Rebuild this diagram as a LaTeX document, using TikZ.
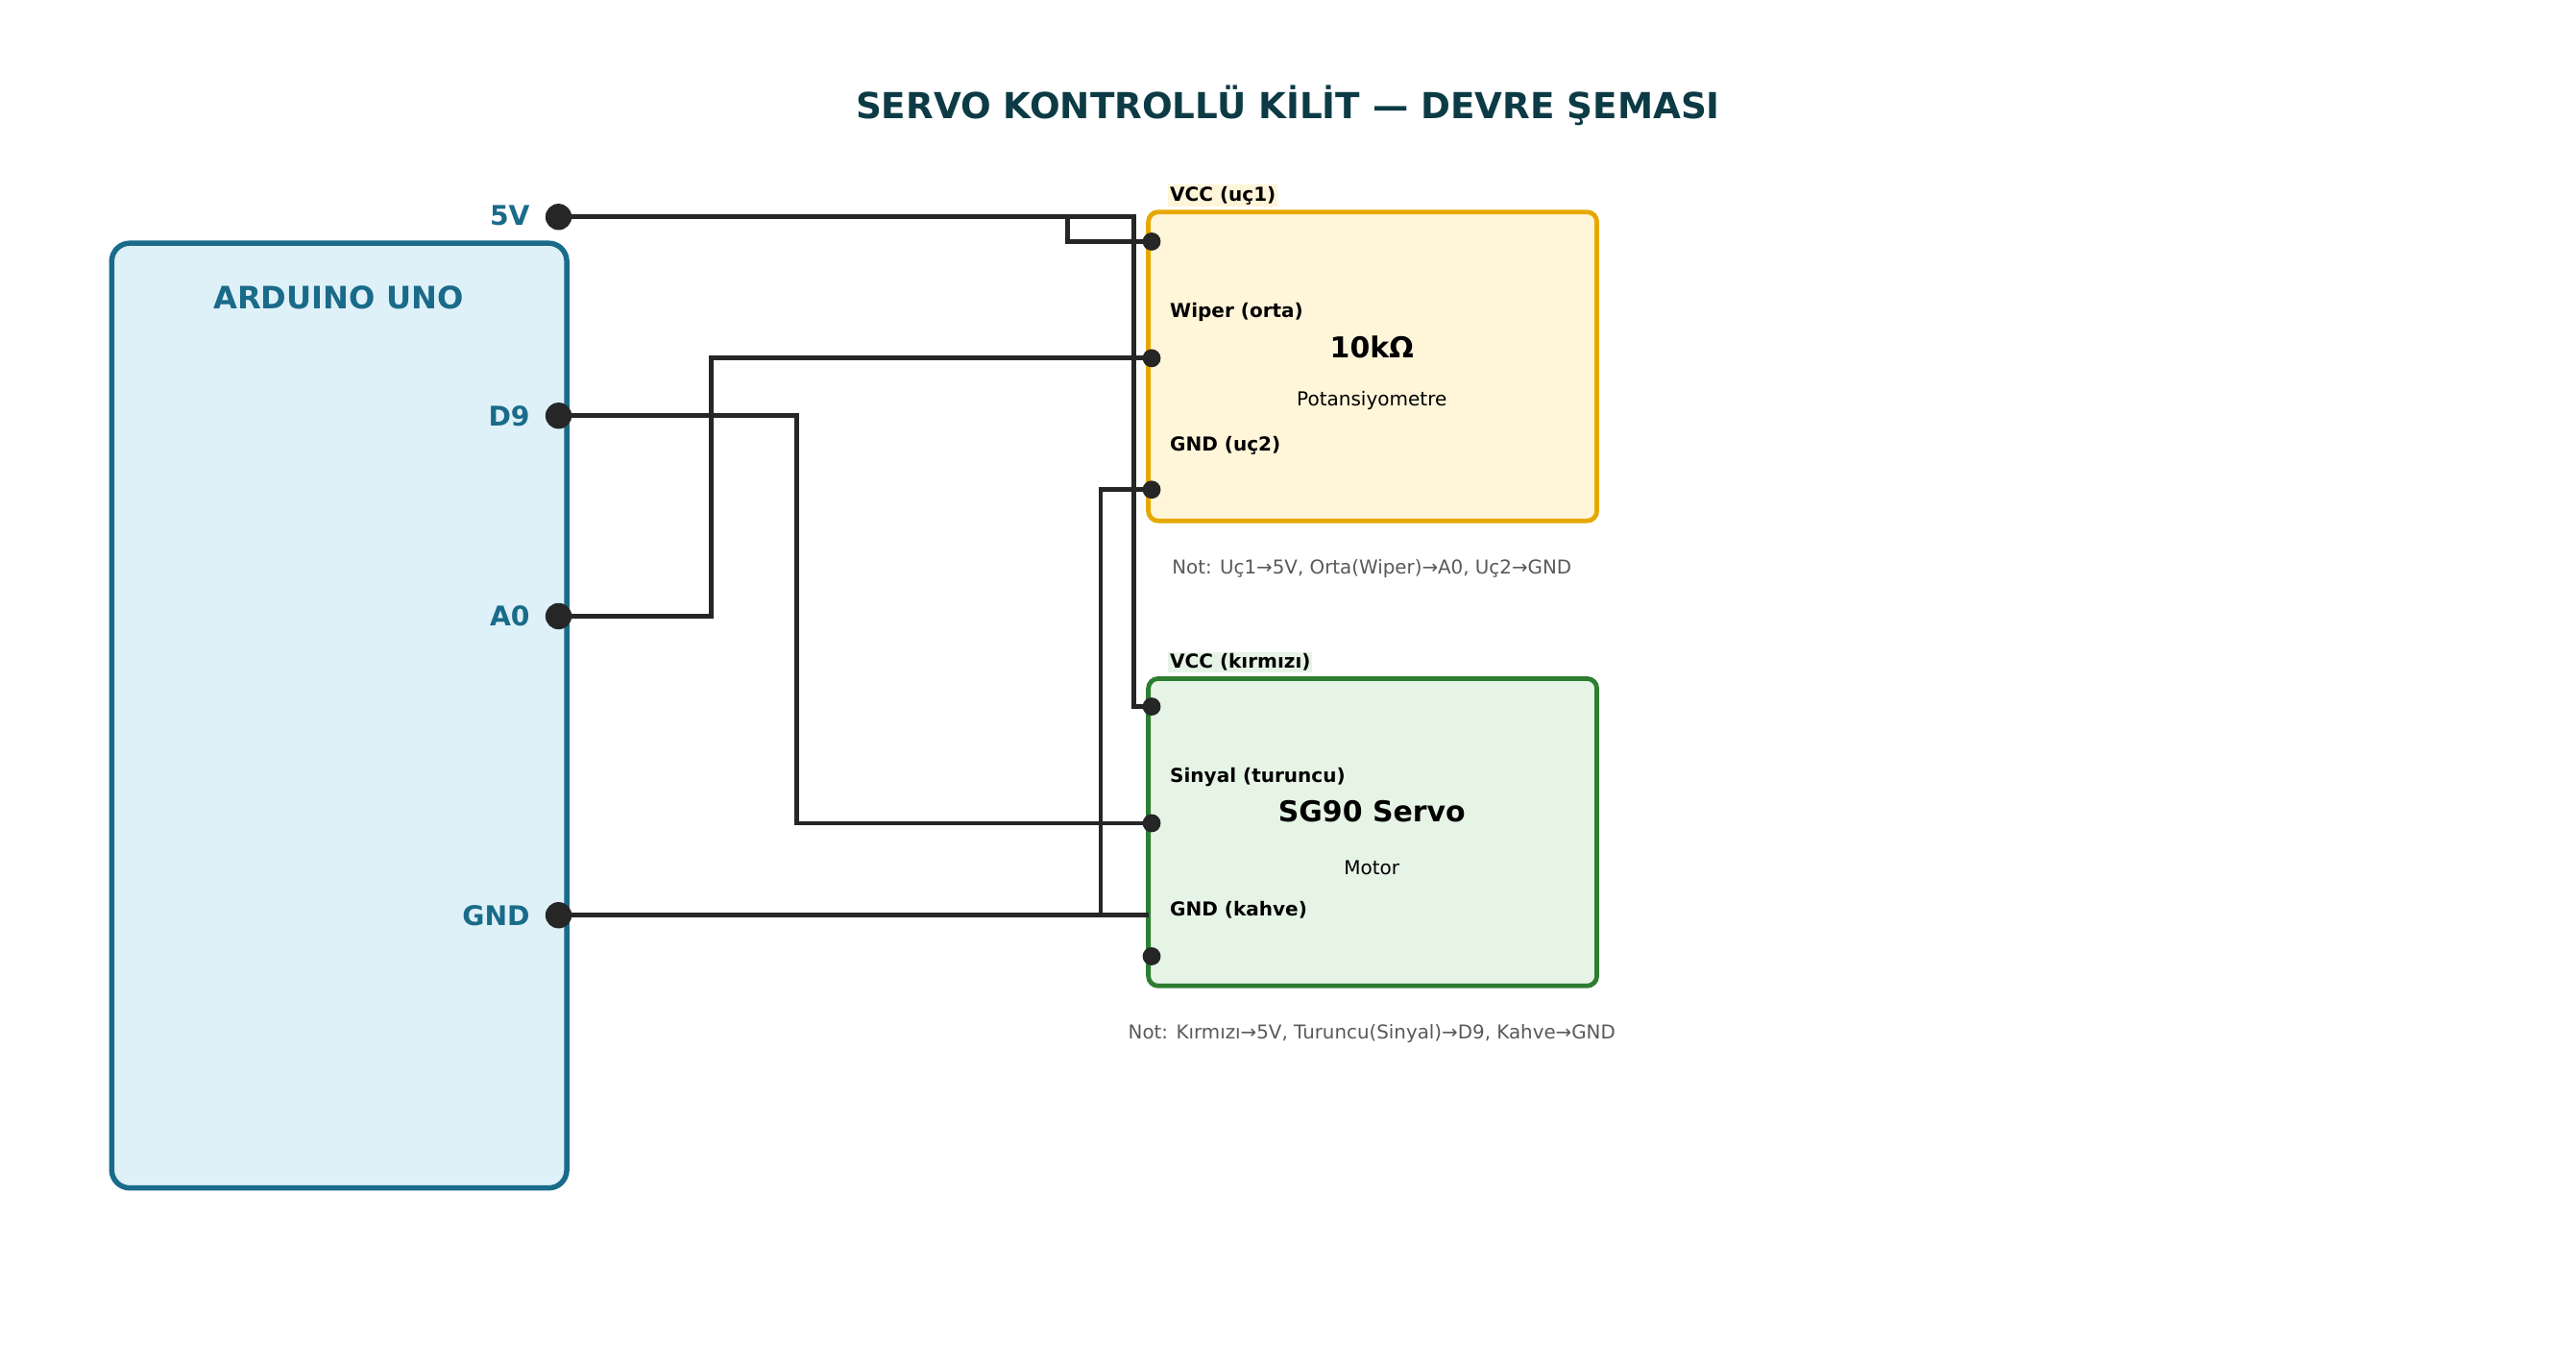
\documentclass[tikz,border=0pt]{standalone}
\usepackage{fontspec}
\setmainfont{DejaVu Sans}
\begin{document}
\begin{tikzpicture}[x=1pt,y=-1pt,
  wire/.style={draw=black!85,line width=2.8pt,line join=miter},
  pin/.style={circle,fill=black!85,inner sep=0pt,minimum size=#1},
  pl/.style={font=\bfseries\fontsize{11.7}{13}\selectfont,anchor=west,inner sep=1pt},
  ap/.style={font=\bfseries\fontsize{16.5}{19}\selectfont,text=ard,anchor=east},
  note/.style={font=\fontsize{11.6}{13}\selectfont,text=black!65}]
\definecolor{ard}{HTML}{1A6B8A}\definecolor{ardf}{HTML}{DFF1F8}
\definecolor{pot}{HTML}{E6A800}\definecolor{potf}{HTML}{FFF5D9}
\definecolor{srv}{HTML}{2E7D32}\definecolor{srvf}{HTML}{E6F4E6}
\definecolor{ttl}{HTML}{0D3B45}
\useasboundingbox[fill=white] (0,0) rectangle (1568,831);
\node[font=\bfseries\fontsize{21.8}{25}\selectfont,text=ttl] (title) at (784,64) {SERVO KONTROLLÜ KİLİT — DEVRE ŞEMASI};
% Arduino
\draw[draw=ard,fill=ardf,line width=3.2pt,rounded corners=11] (68,148) rectangle (345,723);
\node[font=\bfseries\fontsize{18.8}{22}\selectfont,text=ard] (ardt) at (206,181) {ARDUINO UNO};
\node[pin=16pt] (p5v) at (340,132) {}; \node[ap] (l5v) at (326,131) {5V};
\node[pin=16pt] (pd9) at (340,253) {}; \node[ap] (ld9) at (326,253) {D9};
\node[pin=16pt] (pa0) at (340,375) {}; \node[ap] (la0) at (326,375) {A0};
\node[pin=16pt] (pgnd) at (340,557) {}; \node[ap] (lgnd) at (326,557) {GND};
% Pot
\draw[draw=pot,fill=potf,line width=2.8pt,rounded corners=6] (699,129) rectangle (972,317);
\node[font=\bfseries\fontsize{17.5}{20}\selectfont] (potv) at (835,211) {10kΩ};
\node[font=\fontsize{11.7}{13}\selectfont] (potn) at (835,244) {Potansiyometre};
\node[pl,fill=potf] (lvcc1) at (711,119) {VCC (uç1)};
\node[pl] (lwip) at (711,190) {Wiper (orta)};
\node[pl] (lgnd1) at (711,271) {GND (uç2)};
\node[note] (n1) at (835,346) {Not: Uç1→5V, Orta(Wiper)→A0, Uç2→GND};
% Servo
\draw[draw=srv,fill=srvf,line width=2.8pt,rounded corners=6] (699,413) rectangle (972,600);
\node[font=\bfseries\fontsize{17.5}{20}\selectfont] (srvt) at (835,494) {SG90 Servo};
\node[font=\fontsize{11.7}{13}\selectfont] (srvm) at (835,528) {Motor};
\node[pl,fill=srvf] (lvcc2) at (711,403) {VCC (kırmızı)};
\node[pl] (lsig) at (711,473) {Sinyal (turuncu)};
\node[pl] (lgnd2) at (711,554) {GND (kahve)};
\node[note] (n2) at (835,629) {Not: Kırmızı→5V, Turuncu(Sinyal)→D9, Kahve→GND};
% wires
\coordinate (sgndend) at (699,557);
\draw[wire] (p5v.center) -- (690,132) -- (690,430) -- (701,430);
\draw[wire] (650,132) -- (650,147) -- (701,147);
\draw[wire] (pd9.center) -- (485,253) -- (485,501) -- (701,501);
\draw[wire] (pa0.center) -- (433,375) -- (433,218) -- (701,218);
\draw[wire] (pgnd.center) -- (sgndend);
\draw[wire] (670,557) -- (670,298) -- (701,298);
\foreach \n/\y in {a/147,b/218,c/298,d/430,e/501,f/582}
  \node[pin=11pt] (t\n) at (701,\y) {};
\end{tikzpicture}
\end{document}
